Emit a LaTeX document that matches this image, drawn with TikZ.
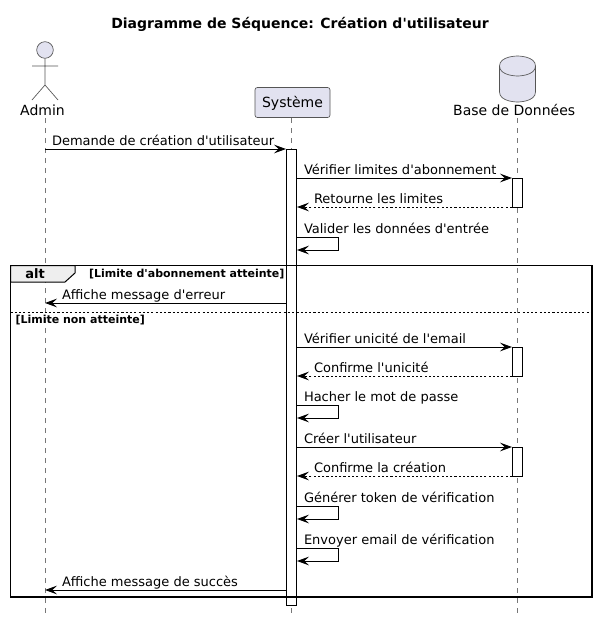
\documentclass[tikz,border=0pt]{standalone}
\usepackage{fontspec}
\setmainfont[Ligatures=TeXOff]{DejaVu Sans}
\usetikzlibrary{arrows.meta}
\definecolor{partfill}{HTML}{E2E2F0}
\definecolor{partline}{HTML}{555555}
\definecolor{lifeline}{HTML}{777777}
\definecolor{tabfill}{HTML}{EEEEEE}
\tikzset{
  x=0.75pt,y=-0.75pt,
  every node/.style={inner sep=0pt,outer sep=0pt,text=black},
  msgtext/.style={anchor=base west,font=\fontsize{9.75pt}{12pt}\selectfont},
  parttext/.style={anchor=base,font=\fontsize{10.5pt}{12pt}\selectfont},
  guardtext/.style={anchor=base west,font=\fontsize{8.25pt}{10pt}\bfseries\selectfont},
  lifelinestyle/.style={draw=lifeline,line width=0.5pt,dash pattern=on 3.75pt off 3.75pt},
  partshape/.style={draw=partline,fill=partfill,line width=0.5pt},
  actbox/.style={draw=black,fill=white,line width=0.6pt},
  msg/.style={draw=black,line width=0.75pt,-{Stealth[length=9pt,width=6.5pt,inset=3.5pt]}},
  ret/.style={msg,dash pattern=on 1.6pt off 1.6pt},
  framebox/.style={draw=black,line width=1.2pt},
  elseline/.style={draw=black,line width=0.6pt,dash pattern=on 1.6pt off 1.6pt}
}
% name, x from, x to, y, style, text x, text
\newcommand\msgarrow[7]{%
  \coordinate (#1s) at (#2,#4);
  \coordinate (#1e) at (#3,#4);
  \draw[#5] (#1s) -- (#1e);
  \node[msgtext] (#1t) at (#6,#4-4) {#7};
}
% name, y1, y2, text
\newcommand\selfarrow[4]{%
  \coordinate (#1s) at (297,#2);
  \coordinate (#1a) at (338,#2);
  \coordinate (#1b) at (338,#3);
  \coordinate (#1e) at (297,#3);
  \draw[msg] (#1s) -- (#1a) -- (#1b) -- (#1e);
  \node[msgtext] (#1t) at (304,#2-4) {#4};
}
\begin{document}
\begin{tikzpicture}
\useasboundingbox (0,0) rectangle (597,621);
\fill[white] (0,0) rectangle (597,621);
\node[anchor=base,font=\fontsize{10.5pt}{12pt}\bfseries\selectfont] (title) at (300,28.5) {Diagramme de Séquence: Création d'utilisateur};

% lifelines
\coordinate (l1a) at (45,118); \coordinate (l1b) at (45,613);
\coordinate (l2a) at (291.5,118); \coordinate (l2b) at (291.5,613);
\coordinate (l3a) at (517.5,118); \coordinate (l3b) at (517.5,613);
\draw[lifelinestyle] (l1a) -- (l1b);
\draw[lifelinestyle] (l2a) -- (l2b);
\draw[lifelinestyle] (l3a) -- (l3b);

% Admin actor
\draw[partshape] (45,50) circle (8.3);
\draw[partline,line width=0.5pt] (45,58.5) -- (45,85) (32,66) -- (58,66) (32,100) -- (45,85) -- (58,100);
\node[parttext] (admin) at (42.5,115) {Admin};

% Systeme
\node[partshape,rounded corners=1.8pt,minimum width=56.25pt,minimum height=22.5pt,anchor=center] (sys) at (292.5,102.5) {};
\node[parttext] (systxt) at (292.5,107) {Système};

% Database
\draw[partshape] (499.5,66) .. controls (499.5,56) and (517.5,56) .. (517.5,56) .. controls (517.5,56) and (535.5,56) .. (535.5,66)
  -- (535.5,92) .. controls (535.5,102) and (517.5,102) .. (517.5,102) .. controls (517.5,102) and (499.5,102) .. (499.5,92) -- cycle;
\draw[partline,line width=0.5pt] (499.5,66) .. controls (499.5,76) and (517.5,76) .. (517.5,76) .. controls (517.5,76) and (535.5,76) .. (535.5,66);
\node[parttext] (db) at (514.2,115) {Base de Données};

% activations
\draw[actbox] (286.5,149.5) rectangle (296.5,605);
\draw[actbox] (512.5,178.5) rectangle (522.5,207);
\draw[actbox] (512.5,347.5) rectangle (522.5,376);
\draw[actbox] (512.5,447.5) rectangle (522.5,476);

% messages
\msgarrow{m1}{45}{286}{149}{msg}{52}{Demande de création d'utilisateur}
\msgarrow{m2}{297}{512}{178}{msg}{304}{Vérifier limites d'abonnement}
\msgarrow{m3}{512}{297}{207}{ret}{314}{Retourne les limites}
\selfarrow{m4}{237}{250}{Valider les données d'entrée}
\msgarrow{m5}{286}{45}{303}{msg}{62}{Affiche message d'erreur}
\msgarrow{m6}{297}{512}{347}{msg}{304}{Vérifier unicité de l'email}
\msgarrow{m7}{512}{297}{376}{ret}{314}{Confirme l'unicité}
\selfarrow{m8}{405}{418}{Hacher le mot de passe}
\msgarrow{m9}{297}{512}{447}{msg}{304}{Créer l'utilisateur}
\msgarrow{m10}{512}{297}{476}{ret}{314}{Confirme la création}
\selfarrow{m11}{506}{519}{Générer token de vérification}
\selfarrow{m12}{548}{561}{Envoyer email de vérification}
\msgarrow{m13}{286}{45}{590}{msg}{62}{Affiche message de succès}

% alt frame
\draw[framebox] (10.5,265.5) rectangle (592,597);
\draw[framebox,line width=0.75pt,fill=tabfill] (10.5,265.5) -- (75,265.5) -- (75,273) -- (65,282) -- (10.5,282) -- cycle;
\draw[framebox] (10.5,265.5) -- (75,265.5);
\draw[framebox] (10.5,265.5) -- (10.5,282);
\node[anchor=base,font=\fontsize{9.75pt}{12pt}\bfseries\selectfont] (alt) at (35,278) {alt};
\node[guardtext] (g1) at (89,277) {[Limite d'abonnement atteinte]};
\draw[elseline] (10.5,312.5) -- (592,312.5);
\node[guardtext] (g2) at (15.5,323) {[Limite non atteinte]};
\end{tikzpicture}
\end{document}
